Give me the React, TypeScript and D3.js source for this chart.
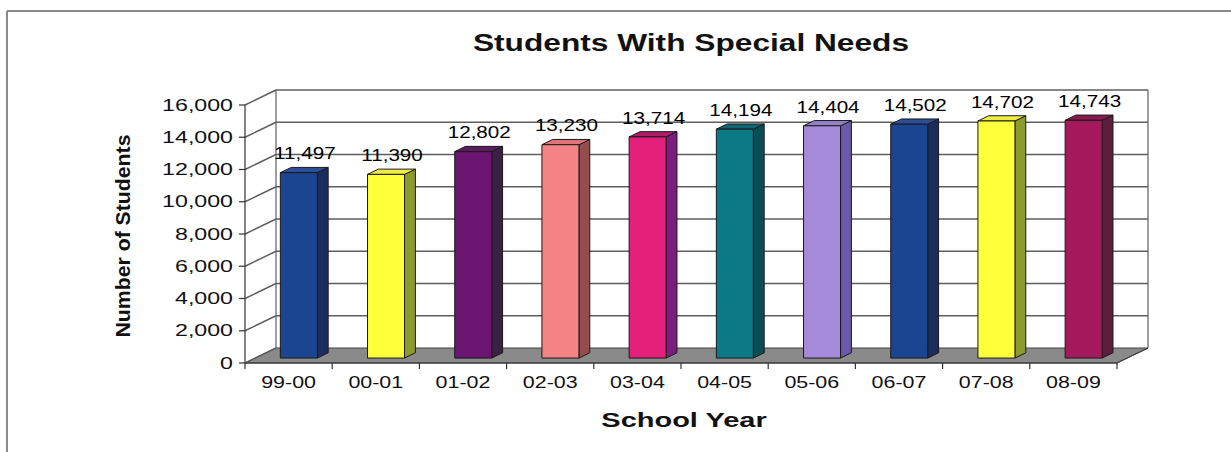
import React from "react";
import * as d3 from "d3";

// School years and enrolment counts of students with special needs
const years = ["99-00", "00-01", "01-02", "02-03", "03-04", "04-05", "05-06", "06-07", "07-08", "08-09"];
const students = [11497, 11390, 12802, 13230, 13714, 14194, 14404, 14502, 14702, 14743];
const yTicks = [0, 2000, 4000, 6000, 8000, 10000, 12000, 14000, 16000];

// Face colours per column: front, right side, top
const frontColors = ["#1c4591", "#ffff3a", "#6b1670", "#f58385", "#e4207c", "#0c7a86", "#a48ad8", "#1c4591", "#ffff3a", "#a41a5c"];
const sideColors = ["#1a2d5c", "#8c9a2e", "#3b1f45", "#944c4c", "#7c1c80", "#0a4d55", "#6a58a8", "#1a2d5c", "#8c9a2e", "#5e1e3c"];
const topColors = ["#2d4e96", "#eeee44", "#5c1a60", "#e07478", "#b01a6a", "#0d6670", "#9280c8", "#2d4e96", "#eeee44", "#8a1a4e"];

const W = 1231;
const H = 452;
const FONT = "'Liberation Sans', Arial, sans-serif";

// plot geometry (front plane) and oblique depth vector
const left = 245;
const right = 1117;
const base = 363;
const top = 105;
const DX = 31;
const DY = -15;

const x = d3.scaleBand<string>().domain(years).range([left, right]);
const y = d3.scaleLinear().domain([0, 16000]).range([base, top]);

const fmt = d3.format(",");

type STProps = {
  x: number;
  y: number;
  sx: number;
  size: number;
  weight?: string | number;
  anchor?: string;
  fill?: string;
  children: React.ReactNode;
};

function SText({ x, y, sx, size, weight = "normal", anchor = "middle", fill = "#111", children }: STProps) {
  return (
    <text
      transform={`translate(${x},${y}) scale(${sx},1)`}
      textAnchor={anchor}
      fontFamily={FONT}
      fontSize={size}
      fontWeight={weight}
      fill={fill}
    >
      {children}
    </text>
  );
}

const pts = (arr: [number, number][]) => arr.map((p) => p.join(",")).join(" ");

export default function App() {
  const bw = x.bandwidth();
  const barW = 37;
  const f0 = 0.33; // depth fraction of bar front
  const f1 = 0.68; // depth fraction of bar back
  const gridColor = "#5e5e5e";

  return (
    <svg
      width={W}
      height={H}
      viewBox={`0 0 ${W} ${H}`}
      style={{ position: "absolute", left: 0, top: 0, background: "#fff" }}
    >
      <rect x={0} y={0} width={W} height={H} fill="#fff" />
      {/* outer frame */}
      <line x1={7} y1={11} x2={W} y2={11} stroke="#8a8a8a" strokeWidth={2} />
      <line x1={7} y1={11} x2={7} y2={H} stroke="#8a8a8a" strokeWidth={2} />

      {/* title */}
      <SText x={691} y={51} sx={1.32} size={24} weight="bold">
        Students With Special Needs
      </SText>

      {/* floor */}
      <polygon
        points={pts([
          [left, base],
          [right, base],
          [right + DX, base + DY],
          [left + DX, base + DY],
        ])}
        fill="#8a8a8a"
        stroke="#444"
        strokeWidth={1}
      />

      {/* walls: back wall grid and left side wall diagonals */}
      {yTicks.map((t) => (
        <g key={t}>
          <line
            x1={left}
            y1={y(t)}
            x2={left + DX}
            y2={y(t) + DY}
            stroke={gridColor}
            strokeWidth={1.4}
          />
          {t > 0 && (
            <line
              x1={left + DX}
              y1={y(t) + DY}
              x2={right + DX}
              y2={y(t) + DY}
              stroke={gridColor}
              strokeWidth={1.4}
            />
          )}
        </g>
      ))}
      <line x1={left + DX} y1={y(16000) + DY} x2={left + DX} y2={base + DY} stroke={gridColor} strokeWidth={1.2} />
      <line x1={right + DX} y1={y(16000) + DY} x2={right + DX} y2={base + DY} stroke={gridColor} strokeWidth={1.2} />

      {/* y axis */}
      <line x1={left} y1={top} x2={left} y2={base} stroke="#333" strokeWidth={1.2} />
      {yTicks.map((t) => (
        <g key={"yt" + t}>
          <line x1={left - 6} y1={y(t)} x2={left} y2={y(t)} stroke="#333" strokeWidth={1.2} />
          <SText x={233} y={y(t) + 5.5} sx={1.45} size={16} anchor="end">
            {fmt(t)}
          </SText>
        </g>
      ))}

      {/* x axis */}
      <line x1={left} y1={base} x2={right} y2={base} stroke="#333" strokeWidth={1.2} />
      <line x1={right} y1={base} x2={right + DX} y2={base + DY} stroke="#444" strokeWidth={1.2} />
      {years.map((c, i) => (
        <g key={"xt" + c}>
          <line x1={(x(c) as number) + bw} y1={base} x2={(x(c) as number) + bw} y2={base + 6} stroke="#333" strokeWidth={1.2} />
          {i === 0 && <line x1={left} y1={base} x2={left} y2={base + 6} stroke="#333" strokeWidth={1.2} />}
          <SText x={(x(c) as number) + bw / 2} y={388} sx={1.34} size={16}>
            {c}
          </SText>
        </g>
      ))}

      {/* columns */}
      {years.map((c, i) => {
        const v = students[i];
        const cx = (x(c) as number) + bw / 2;
        const ox0 = DX * f0;
        const oy0 = DY * f0;
        const ox1 = DX * f1;
        const oy1 = DY * f1;
        const xl = cx - barW / 2 + ox0;
        const xr = xl + barW;
        const yb = base + oy0;
        const yt = y(v) + oy0;
        const ddx = ox1 - ox0;
        const ddy = oy1 - oy0;
        return (
          <g key={"bar" + c} stroke="#1a1a1a" strokeWidth={1} strokeLinejoin="round">
            <polygon
              points={pts([
                [xr, yt],
                [xr + ddx, yt + ddy],
                [xr + ddx, yb + ddy],
                [xr, yb],
              ])}
              fill={sideColors[i]}
            />
            <polygon
              points={pts([
                [xl, yt],
                [xl + ddx, yt + ddy],
                [xr + ddx, yt + ddy],
                [xr, yt],
              ])}
              fill={topColors[i]}
            />
            <rect x={xl} y={yt} width={barW} height={yb - yt} fill={frontColors[i]} />
          </g>
        );
      })}

      {/* value labels */}
      {years.map((c, i) => {
        const v = students[i];
        const cx = (x(c) as number) + bw / 2 + DX * f0 + 6;
        const yl = y(v) + DY * f1 - 8;
        return (
          <SText key={"lab" + c} x={cx} y={yl} sx={1.29} size={16} fill="#000">
            {fmt(v)}
          </SText>
        );
      })}

      {/* axis titles */}
      <SText x={684} y={427} sx={1.38} size={21} weight="bold">
        School Year
      </SText>
      <text
        transform={`translate(130,236) rotate(-90)`}
        textAnchor="middle"
        fontFamily={FONT}
        fontSize={20}
        fontWeight="bold"
        fill="#111"
        textLength={203}
        lengthAdjust="spacingAndGlyphs"
      >
        Number of Students
      </text>
    </svg>
  );
}
